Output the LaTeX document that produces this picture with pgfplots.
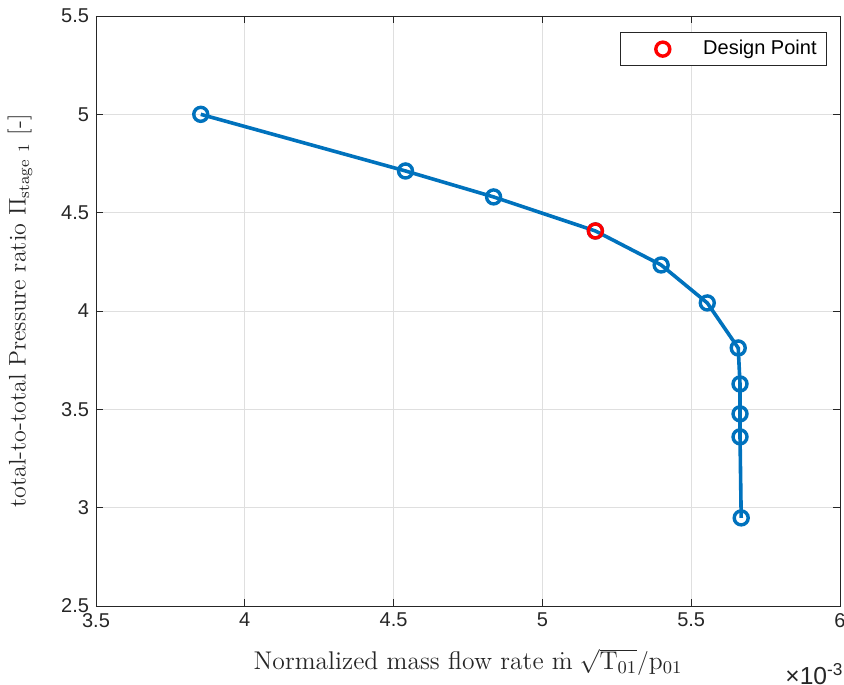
\documentclass[border=0pt]{standalone}
\usepackage{fontspec}
\usepackage{pgfplots}
\pgfplotsset{compat=1.18}
\usetikzlibrary{calc}
\newfontfamily\helv{Liberation Sans}
\definecolor{mblue}{rgb}{0,0.447,0.741}
\definecolor{axgray}{rgb}{0.15,0.15,0.15}
\definecolor{gridgray}{rgb}{0.875,0.875,0.875}
\pgfplotsset{dpleg/.style={legend image code/.code={\draw[##1] plot coordinates {(18pt,0pt)}; \path (0pt,0pt) (36pt,0pt);}}}

\begin{document}
\begin{tikzpicture}
\begin{axis}[
  name=ax, scale only axis, width=372pt, height=295pt,
  xmin=3.5, xmax=6, ymin=2.5, ymax=5.5,
  xtick={3.5,4,...,6}, ytick={2.5,3,...,5.5},
  tick align=inside, tick pos=both, major tick length=3.5pt,
  axis line style={axgray, line width=0.4pt},
  every tick/.style={axgray, line width=0.4pt},
  grid=major, major grid style={gridgray, line width=0.4pt},
  ticklabel style={font=\helv\fontsize{10}{12}\selectfont, text=axgray},
  /pgf/number format/assume math mode=true,
  xlabel={Normalized mass flow rate $\dot{\mathrm{m}}\;\sqrt{\mathrm{T}_{01}}/\mathrm{p}_{01}$},
  ylabel={total-to-total Pressure ratio $\Pi_{\mathrm{stage\ 1}}$\ [-]},
  label style={text=axgray},
  xlabel style={font=\fontsize{12.8}{14}\selectfont, yshift=-4pt},
  ylabel style={font=\fontsize{12}{14}\selectfont, yshift=7.5pt},
  legend style={at={(1,1)}, anchor=north east, xshift=-6.5pt, yshift=-8pt,
    draw=axgray, line width=0.4pt, font=\helv\fontsize{10}{12}\selectfont, inner xsep=3pt},
]
\addplot[mblue, line width=1.8pt, mark=o, mark size=3.5pt, mark options={line width=1.7pt}, forget plot]
  coordinates {(3.852,5.000) (4.540,4.712) (4.836,4.580) (5.178,4.407) (5.399,4.234) (5.554,4.041)
               (5.658,3.812) (5.664,3.629) (5.664,3.477) (5.664,3.360) (5.668,2.948)};
\addplot[red, only marks, mark=o, mark size=3.5pt, mark options={line width=1.7pt}, dpleg]
  coordinates {(5.178,4.407)};
\addlegendentry{Design Point}
\end{axis}
\node[anchor=base west, font=\helv\fontsize{12.3}{14}\selectfont, text=axgray, inner sep=0pt]
  at ($(ax.south east)+(-27.5pt,-39pt)$) {×10\textsuperscript{-3}};
\pgfresetboundingbox
\path[use as bounding box] ($(ax.south west)+(-48pt,-39pt)$) rectangle ($(ax.north east)+(2pt,8pt)$);
\end{tikzpicture}
\end{document}
